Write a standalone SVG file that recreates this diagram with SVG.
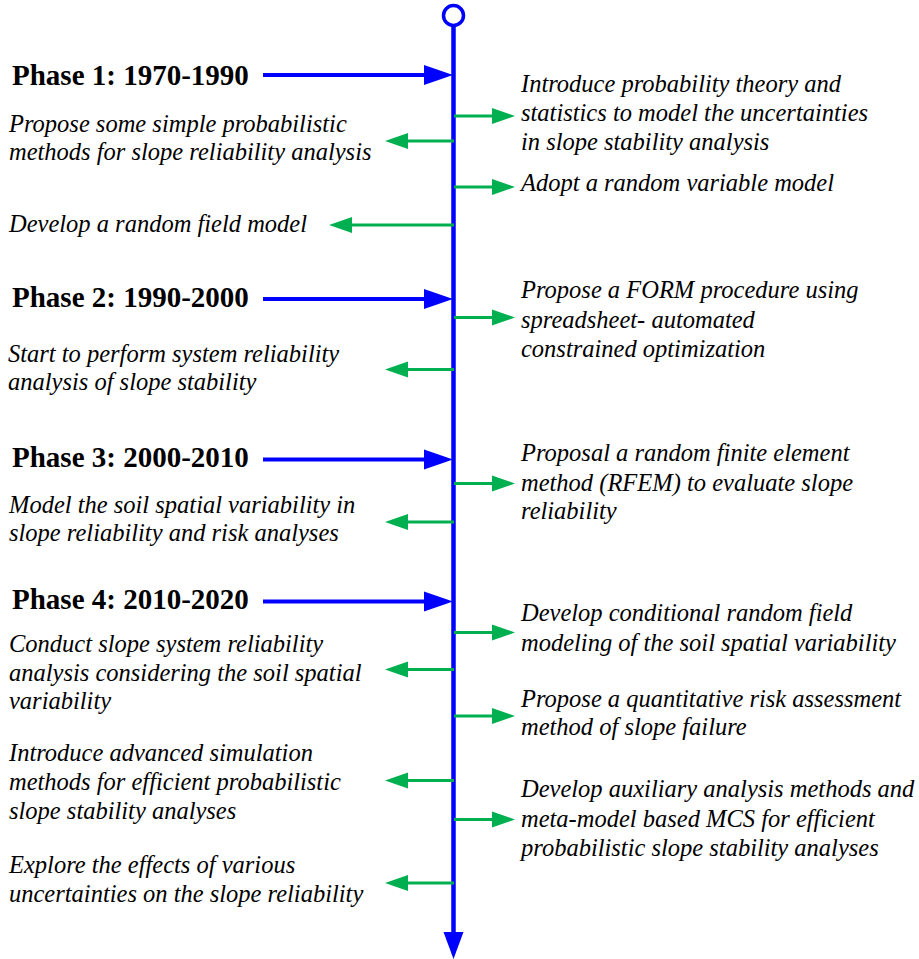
<svg xmlns="http://www.w3.org/2000/svg" width="919" height="959" viewBox="0 0 919 959">
<defs>
<style>
.ph{font-family:"Liberation Serif","Times New Roman",serif;font-weight:bold;font-size:29px;fill:#000}
.t{font-family:"Liberation Serif","Times New Roman",serif;font-style:italic;font-size:24.5px;fill:#000}
.g{stroke:#00B050;stroke-width:3;fill:none}
.b{stroke:#0000FF;stroke-width:4;fill:none}
</style>
<marker id="ga" markerUnits="userSpaceOnUse" markerWidth="24" markerHeight="16" refX="0" refY="8" orient="auto" overflow="visible">
<path d="M0,0 L23,8 L0,16 z" fill="#00B050"/>
</marker>
<marker id="ba" markerUnits="userSpaceOnUse" markerWidth="30" markerHeight="20" refX="0" refY="10" orient="auto" overflow="visible">
<path d="M0,0 L29,10 L0,20 z" fill="#0000FF"/>
</marker>
<marker id="ma" markerUnits="userSpaceOnUse" markerWidth="27" markerHeight="20" refX="0" refY="10" orient="auto" overflow="visible">
<path d="M0,0 L27,10 L0,20 z" fill="#0000FF"/>
</marker>
</defs>
<rect width="919" height="959" fill="#fff"/>
<g id="connectors">
<line x1="453.5" y1="26" x2="453.5" y2="932" stroke="#0000FF" stroke-width="4.5" marker-end="url(#ma)"/>
<line class="b" x1="263" y1="75" x2="424" y2="75" marker-end="url(#ba)"/>
<line class="b" x1="263" y1="299" x2="424" y2="299" marker-end="url(#ba)"/>
<line class="b" x1="263" y1="459.5" x2="424" y2="459.5" marker-end="url(#ba)"/>
<line class="b" x1="263" y1="601.5" x2="424" y2="601.5" marker-end="url(#ba)"/>
<line class="g" x1="454" y1="116" x2="492" y2="116" marker-end="url(#ga)"/>
<line class="g" x1="454" y1="187" x2="492" y2="187" marker-end="url(#ga)"/>
<line class="g" x1="454" y1="317.5" x2="492" y2="317.5" marker-end="url(#ga)"/>
<line class="g" x1="454" y1="483.5" x2="492" y2="483.5" marker-end="url(#ga)"/>
<line class="g" x1="454" y1="632.5" x2="492" y2="632.5" marker-end="url(#ga)"/>
<line class="g" x1="454" y1="716" x2="492" y2="716" marker-end="url(#ga)"/>
<line class="g" x1="454" y1="819.5" x2="492" y2="819.5" marker-end="url(#ga)"/>
<line class="g" x1="454" y1="141" x2="408" y2="141" marker-end="url(#ga)"/>
<line class="g" x1="454" y1="225" x2="352" y2="225" marker-end="url(#ga)"/>
<line class="g" x1="454" y1="369.5" x2="408" y2="369.5" marker-end="url(#ga)"/>
<line class="g" x1="454" y1="522" x2="408" y2="522" marker-end="url(#ga)"/>
<line class="g" x1="454" y1="669.5" x2="408" y2="669.5" marker-end="url(#ga)"/>
<line class="g" x1="454" y1="780.5" x2="408" y2="780.5" marker-end="url(#ga)"/>
<line class="g" x1="454" y1="883" x2="408" y2="883" marker-end="url(#ga)"/>
</g>
<g id="start"><circle cx="453.5" cy="15.5" r="10" fill="#fff" stroke="#0000FF" stroke-width="3.5"/></g>
<g id="phase1"><text class="ph" x="12" y="85">Phase 1: 1970-1990</text></g>
<g id="phase2"><text class="ph" x="12" y="307">Phase 2: 1990-2000</text></g>
<g id="phase3"><text class="ph" x="12" y="467">Phase 3: 2000-2010</text></g>
<g id="phase4"><text class="ph" x="12" y="609">Phase 4: 2010-2020</text></g>
<g id="L1"><text class="t"><tspan x="9" y="132">Propose some simple probabilistic</tspan><tspan x="9" y="160">methods for slope reliability analysis</tspan></text></g>
<g id="L2"><text class="t" x="9" y="232">Develop a random field model</text></g>
<g id="L3"><text class="t"><tspan x="8" y="362">Start to perform system reliability</tspan><tspan x="8" y="390">analysis of slope stability</tspan></text></g>
<g id="L4"><text class="t"><tspan x="9" y="513">Model the soil spatial variability in</tspan><tspan x="9" y="541">slope reliability and risk analyses</tspan></text></g>
<g id="L5"><text class="t"><tspan x="9" y="652">Conduct slope system reliability</tspan><tspan x="9" y="681">analysis considering the soil spatial</tspan><tspan x="9" y="709">variability</tspan></text></g>
<g id="L6"><text class="t"><tspan x="9" y="761">Introduce advanced simulation</tspan><tspan x="9" y="790">methods for efficient probabilistic</tspan><tspan x="9" y="819">slope stability analyses</tspan></text></g>
<g id="L7"><text class="t"><tspan x="9" y="873">Explore the effects of various</tspan><tspan x="9" y="902">uncertainties on the slope reliability</tspan></text></g>
<g id="R1"><text class="t"><tspan x="521" y="92">Introduce probability theory and</tspan><tspan x="521" y="121">statistics to model the uncertainties</tspan><tspan x="521" y="150">in slope stability analysis</tspan></text></g>
<g id="R2"><text class="t" x="521" y="191">Adopt a random variable model</text></g>
<g id="R3"><text class="t"><tspan x="521" y="298">Propose a FORM procedure using</tspan><tspan x="521" y="328">spreadsheet- automated</tspan><tspan x="521" y="357">constrained optimization</tspan></text></g>
<g id="R4"><text class="t"><tspan x="521" y="461">Proposal a random finite element</tspan><tspan x="521" y="491">method (RFEM) to evaluate slope</tspan><tspan x="521" y="519">reliability</tspan></text></g>
<g id="R5"><text class="t"><tspan x="521" y="621">Develop conditional random field</tspan><tspan x="521" y="651">modeling of the soil spatial variability</tspan></text></g>
<g id="R6"><text class="t"><tspan x="521" y="707">Propose a quantitative risk assessment</tspan><tspan x="521" y="735">method of slope failure</tspan></text></g>
<g id="R7"><text class="t"><tspan x="521" y="797">Develop auxiliary analysis methods and</tspan><tspan x="521" y="827">meta-model based MCS for efficient</tspan><tspan x="521" y="856">probabilistic slope stability analyses</tspan></text></g>
</svg>
